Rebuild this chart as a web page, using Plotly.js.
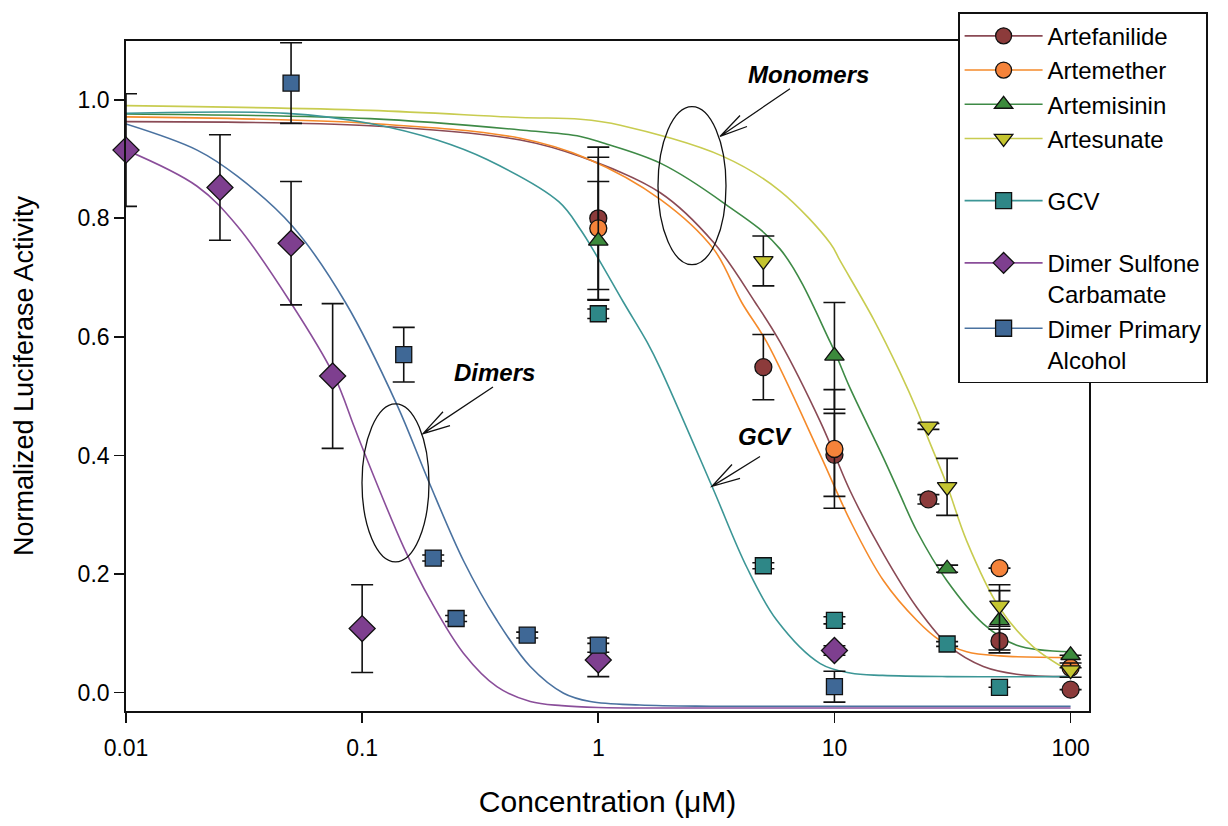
<!DOCTYPE html>
<html>
<head>
<meta charset="utf-8">
<script src="https://cdn.plot.ly/plotly-3.0.1.min.js"></script>
<style>html,body{margin:0;padding:0;background:#fff;}#chart{width:1228px;height:826px;}</style>
</head>
<body>
<div id="chart"></div>
<script>
// ---------- Data ----------
const seriesNames = ["Artefanilide", "Artemether", "Artemisinin", "Artesunate", "GCV", "Dimer Sulfone<br>Carbamate", "Dimer Primary<br>Alcohol"];

// measured points (concentration in µM, normalized activity, error)
const artefanilideX = [1, 5, 10, 25, 50, 100];
const artefanilideY = [0.800, 0.549, 0.401, 0.326, 0.087, 0.005];
const artefanilideErr = [0.12, 0.055, 0.07, 0.008, 0.02, 0];

const artemetherX = [1, 10, 50, 100];
const artemetherY = [0.783, 0.411, 0.210, 0.042];
const artemetherErr = [0.12, 0.10, 0, 0];

const artemisininX = [1, 10, 30, 50, 100];
const artemisininY = [0.762, 0.568, 0.209, 0.122, 0.063];
const artemisininErr = [0.10, 0.09, 0.006, 0.05, 0];

const artesunateX = [5, 25, 30, 50, 100];
const artesunateY = [0.728, 0.449, 0.347, 0.147, 0.038];
const artesunateErr = [0.042, 0.005, 0.048, 0.035, 0.012];

const gcvX = [1, 5, 10, 30, 50];
const gcvY = [0.639, 0.214, 0.122, 0.082, 0.009];
const gcvErr = [0.008, 0.005, 0.006, 0.004, 0];

const dscX = [0.01, 0.025, 0.05, 0.075, 0.1, 1, 10];
const dscY = [0.915, 0.852, 0.758, 0.534, 0.108, 0.055, 0.071];
const dscErr = [0.095, 0.089, 0.104, 0.122, 0.074, 0.028, 0.008];

const dpaX = [0.05, 0.15, 0.2, 0.25, 0.5, 1, 10];
const dpaY = [1.028, 0.570, 0.227, 0.125, 0.097, 0.080, 0.010];
const dpaErr = [0.068, 0.046, 0.005, 0.005, 0.005, 0.012, 0.026];

// fitted curves
const artefanilideCurveX = [0.01, 0.108, 0.468, 0.84, 1.83, 3.08, 4.62, 5.89, 8.71, 10, 11.66, 16.12, 22.3, 30.9, 42.7, 59.1, 100];
const artefanilideCurveY = [0.963, 0.956, 0.932, 0.904, 0.843, 0.759, 0.658, 0.591, 0.457, 0.402, 0.340, 0.234, 0.144, 0.077, 0.044, 0.031, 0.027];

const artemetherCurveX = [0.01, 0.108, 0.468, 0.895, 1.83, 3.08, 4.05, 5.17, 8.71, 11.66, 16.12, 22.3, 28, 36.3, 50.3, 100];
const artemetherCurveY = [0.971, 0.960, 0.935, 0.901, 0.832, 0.748, 0.658, 0.591, 0.401, 0.290, 0.189, 0.122, 0.088, 0.069, 0.062, 0.059];

const artemisininCurveX = [0.01, 0.108, 0.468, 0.84, 1.05, 1.83, 3.39, 5.89, 9.6, 11.66, 16.12, 18.96, 22.3, 29.9, 42.7, 59.1, 100];
const artemisininCurveY = [0.976, 0.968, 0.949, 0.938, 0.927, 0.893, 0.826, 0.748, 0.591, 0.513, 0.396, 0.334, 0.273, 0.189, 0.116, 0.080, 0.069];

const artesunateCurveX = [0.01, 0.108, 0.468, 0.84, 1.24, 3.39, 5.89, 9.6, 10.58, 14.63, 18.96, 22.32, 24.85, 29.9, 36.3, 49.8, 69.5, 100];
const artesunateCurveY = [0.990, 0.982, 0.970, 0.967, 0.957, 0.904, 0.846, 0.758, 0.728, 0.630, 0.540, 0.477, 0.430, 0.351, 0.256, 0.144, 0.077, 0.035];

const gcvCurveX = [0.01, 0.048, 0.108, 0.2075, 0.338, 0.68, 0.84, 0.99, 1.28, 1.61, 1.83, 3.03, 4.26, 5.7, 8.71, 11.66, 16, 30, 100];
const gcvCurveY = [0.977, 0.977, 0.960, 0.932, 0.899, 0.828, 0.781, 0.735, 0.658, 0.591, 0.547, 0.348, 0.211, 0.122, 0.049, 0.033, 0.029, 0.027, 0.027];

const dscCurveX = [0.01, 0.02, 0.0296, 0.0498, 0.076, 0.0922, 0.1016, 0.15, 0.195, 0.269, 0.372, 0.515, 0.7, 1, 2, 100];
const dscCurveY = [0.915, 0.854, 0.787, 0.658, 0.535, 0.450, 0.407, 0.245, 0.155, 0.066, 0.010, -0.015, -0.022, -0.025, -0.026, -0.026];

const dpaCurveX = [0.01, 0.02, 0.0296, 0.0506, 0.085, 0.1406, 0.191, 0.269, 0.372, 0.515, 0.713, 0.925, 1.5, 3, 100];
const dpaCurveY = [0.959, 0.915, 0.871, 0.787, 0.658, 0.485, 0.357, 0.222, 0.122, 0.044, -0.001, -0.015, -0.021, -0.023, -0.023];

// axis ticks
const xTickVals = [0.01, 0.1, 1, 10, 100];
const xTickText = ["0.01", "0.1", "1", "10", "100"];
const yTickVals = [0, 0.2, 0.4, 0.6, 0.8, 1.0];
const yTickText = ["0.0", "0.2", "0.4", "0.6", "0.8", "1.0"];

// ---------- Styles ----------
const FONT = "Arial, 'Liberation Sans', Helvetica, sans-serif";
const styles = [
  {mk: "#8C3B3B", ln: "#8A4A55", sym: "circle", size: 17, grp: "g1"},
  {mk: "#F5833A", ln: "#F58A2A", sym: "circle", size: 17, grp: "g1"},
  {mk: "#3C8A3C", ln: "#3E8A46", sym: "triangle-up", size: 17, grp: "g1"},
  {mk: "#C5C530", ln: "#C8CC50", sym: "triangle-down", size: 17, grp: "g1"},
  {mk: "#2E8787", ln: "#3C9696", sym: "square", size: 16, grp: "g2"},
  {mk: "#7E3F8F", ln: "#8A4E9A", sym: "diamond", size: 20, grp: "g3"},
  {mk: "#3F6896", ln: "#4A72A0", sym: "square", size: 16, grp: "g3"}
];
const pts = [
  [artefanilideX, artefanilideY, artefanilideErr],
  [artemetherX, artemetherY, artemetherErr],
  [artemisininX, artemisininY, artemisininErr],
  [artesunateX, artesunateY, artesunateErr],
  [gcvX, gcvY, gcvErr],
  [dscX, dscY, dscErr],
  [dpaX, dpaY, dpaErr]
];
const curves = [
  [artefanilideCurveX, artefanilideCurveY],
  [artemetherCurveX, artemetherCurveY],
  [artemisininCurveX, artemisininCurveY],
  [artesunateCurveX, artesunateCurveY],
  [gcvCurveX, gcvCurveY],
  [dscCurveX, dscCurveY],
  [dpaCurveX, dpaCurveY]
];

const traces = [];
curves.forEach((c, i) => {
  traces.push({
    x: c[0], y: c[1], type: "scatter", mode: "lines",
    line: {color: styles[i].ln, width: 1.6, shape: "spline", smoothing: 1},
    showlegend: false, hoverinfo: "skip", cliponaxis: false
  });
});
pts.forEach((p, i) => {
  traces.push({
    x: p[0], y: p[1], type: "scatter", mode: "markers",
    marker: {symbol: styles[i].sym, size: styles[i].size, color: styles[i].mk, line: {color: "#111", width: 1.3}},
    error_y: {type: "data", array: p[2], visible: true, color: "#111", thickness: 1.6, width: 11},
    showlegend: false, hoverinfo: "skip", cliponaxis: false
  });
});
seriesNames.forEach((n, i) => {
  traces.push({
    x: [null], y: [null], type: "scatter", mode: "lines+markers", name: n,
    legendgroup: styles[i].grp,
    line: {color: styles[i].ln, width: 1.6},
    marker: {symbol: styles[i].sym, size: styles[i].size, color: styles[i].mk, line: {color: "#111", width: 1.3}},
    showlegend: true
  });
});

// ---------- Layout ----------
const L = 126, R = 1089, T = 37, B = 711;
function px(x) { return (x - L) / (R - L); }
function py(y) { return (B - y) / (B - T); }
function ellipse(x0, y0, x1, y1) {
  return {type: "circle", xref: "paper", yref: "paper", x0: px(x0), x1: px(x1), y0: py(y1), y1: py(y0),
          line: {color: "#111", width: 1.3}, fillcolor: "rgba(0,0,0,0)"};
}
function arrow(tail, head, w1, w2) {
  const f = p => px(p[0]) + " " + py(p[1]);
  return {type: "path", xref: "paper", yref: "paper",
          path: "M " + f(tail) + " L " + f(head) + " M " + f(w1) + " L " + f(head) + " L " + f(w2),
          line: {color: "#111", width: 1.3}};
}
function label(text, x, y) {
  return {text: "<b><i>" + text + "</i></b>", xref: "paper", yref: "paper", x: px(x), y: py(y),
          xanchor: "center", yanchor: "middle", showarrow: false, font: {family: FONT, size: 24, color: "#000"}};
}

const layout = {
  width: 1228, height: 826,
  margin: {l: L, r: 1228 - R, t: T, b: 826 - B, pad: 0},
  paper_bgcolor: "#fff", plot_bgcolor: "#fff",
  font: {family: FONT, color: "#000"},
  showlegend: true,
  xaxis: {
    type: "log", range: [-2, 2.078], autorange: false,
    tickvals: xTickVals, ticktext: xTickText,
    ticks: "outside", ticklen: 10, tickwidth: 1.6, tickcolor: "#111",
    ticklabelstandoff: 6,
    showline: true, linecolor: "#111", linewidth: 1.8, mirror: true,
    showgrid: false, zeroline: false,
    tickfont: {family: FONT, size: 23, color: "#000"},
    title: {text: "Concentration (\u03BCM)", font: {family: FONT, size: 30, color: "#000"}, standoff: 30},
    automargin: false
  },
  yaxis: {
    range: [-0.031, 1.099], autorange: false,
    tickvals: yTickVals, ticktext: yTickText,
    ticks: "outside", ticklen: 10, tickwidth: 1.6, tickcolor: "#111",
    showline: true, linecolor: "#111", linewidth: 1.8, mirror: true,
    showgrid: false, zeroline: false,
    tickfont: {family: FONT, size: 23, color: "#000"},
    title: {text: "Normalized Luciferase Activity", font: {family: FONT, size: 27, color: "#000"}, standoff: 36},
    automargin: false
  },
  legend: {
    x: px(958), y: py(8), xanchor: "left", yanchor: "top",
    bgcolor: "#fff", bordercolor: "#111", borderwidth: 1.6,
    font: {family: FONT, size: 24, color: "#000"},
    traceorder: "grouped", tracegroupgap: 28, valign: "top", itemwidth: 78
  },
  shapes: [
    ellipse(658, 103, 726, 262),
    ellipse(362, 402, 429, 561),
    arrow([790, 85], [720, 133], [740, 112], [747, 123]),
    arrow([493, 385], [423, 432], [443, 410], [450, 424]),
    arrow([760, 455], [712, 485], [732, 463], [740, 477])
  ],
  annotations: [
    label("Monomers", 808, 71),
    label("Dimers", 494, 370),
    label("GCV", 765, 435)
  ]
};

Plotly.newPlot("chart", traces, layout, {displayModeBar: false, staticPlot: true});
</script>
</body>
</html>
